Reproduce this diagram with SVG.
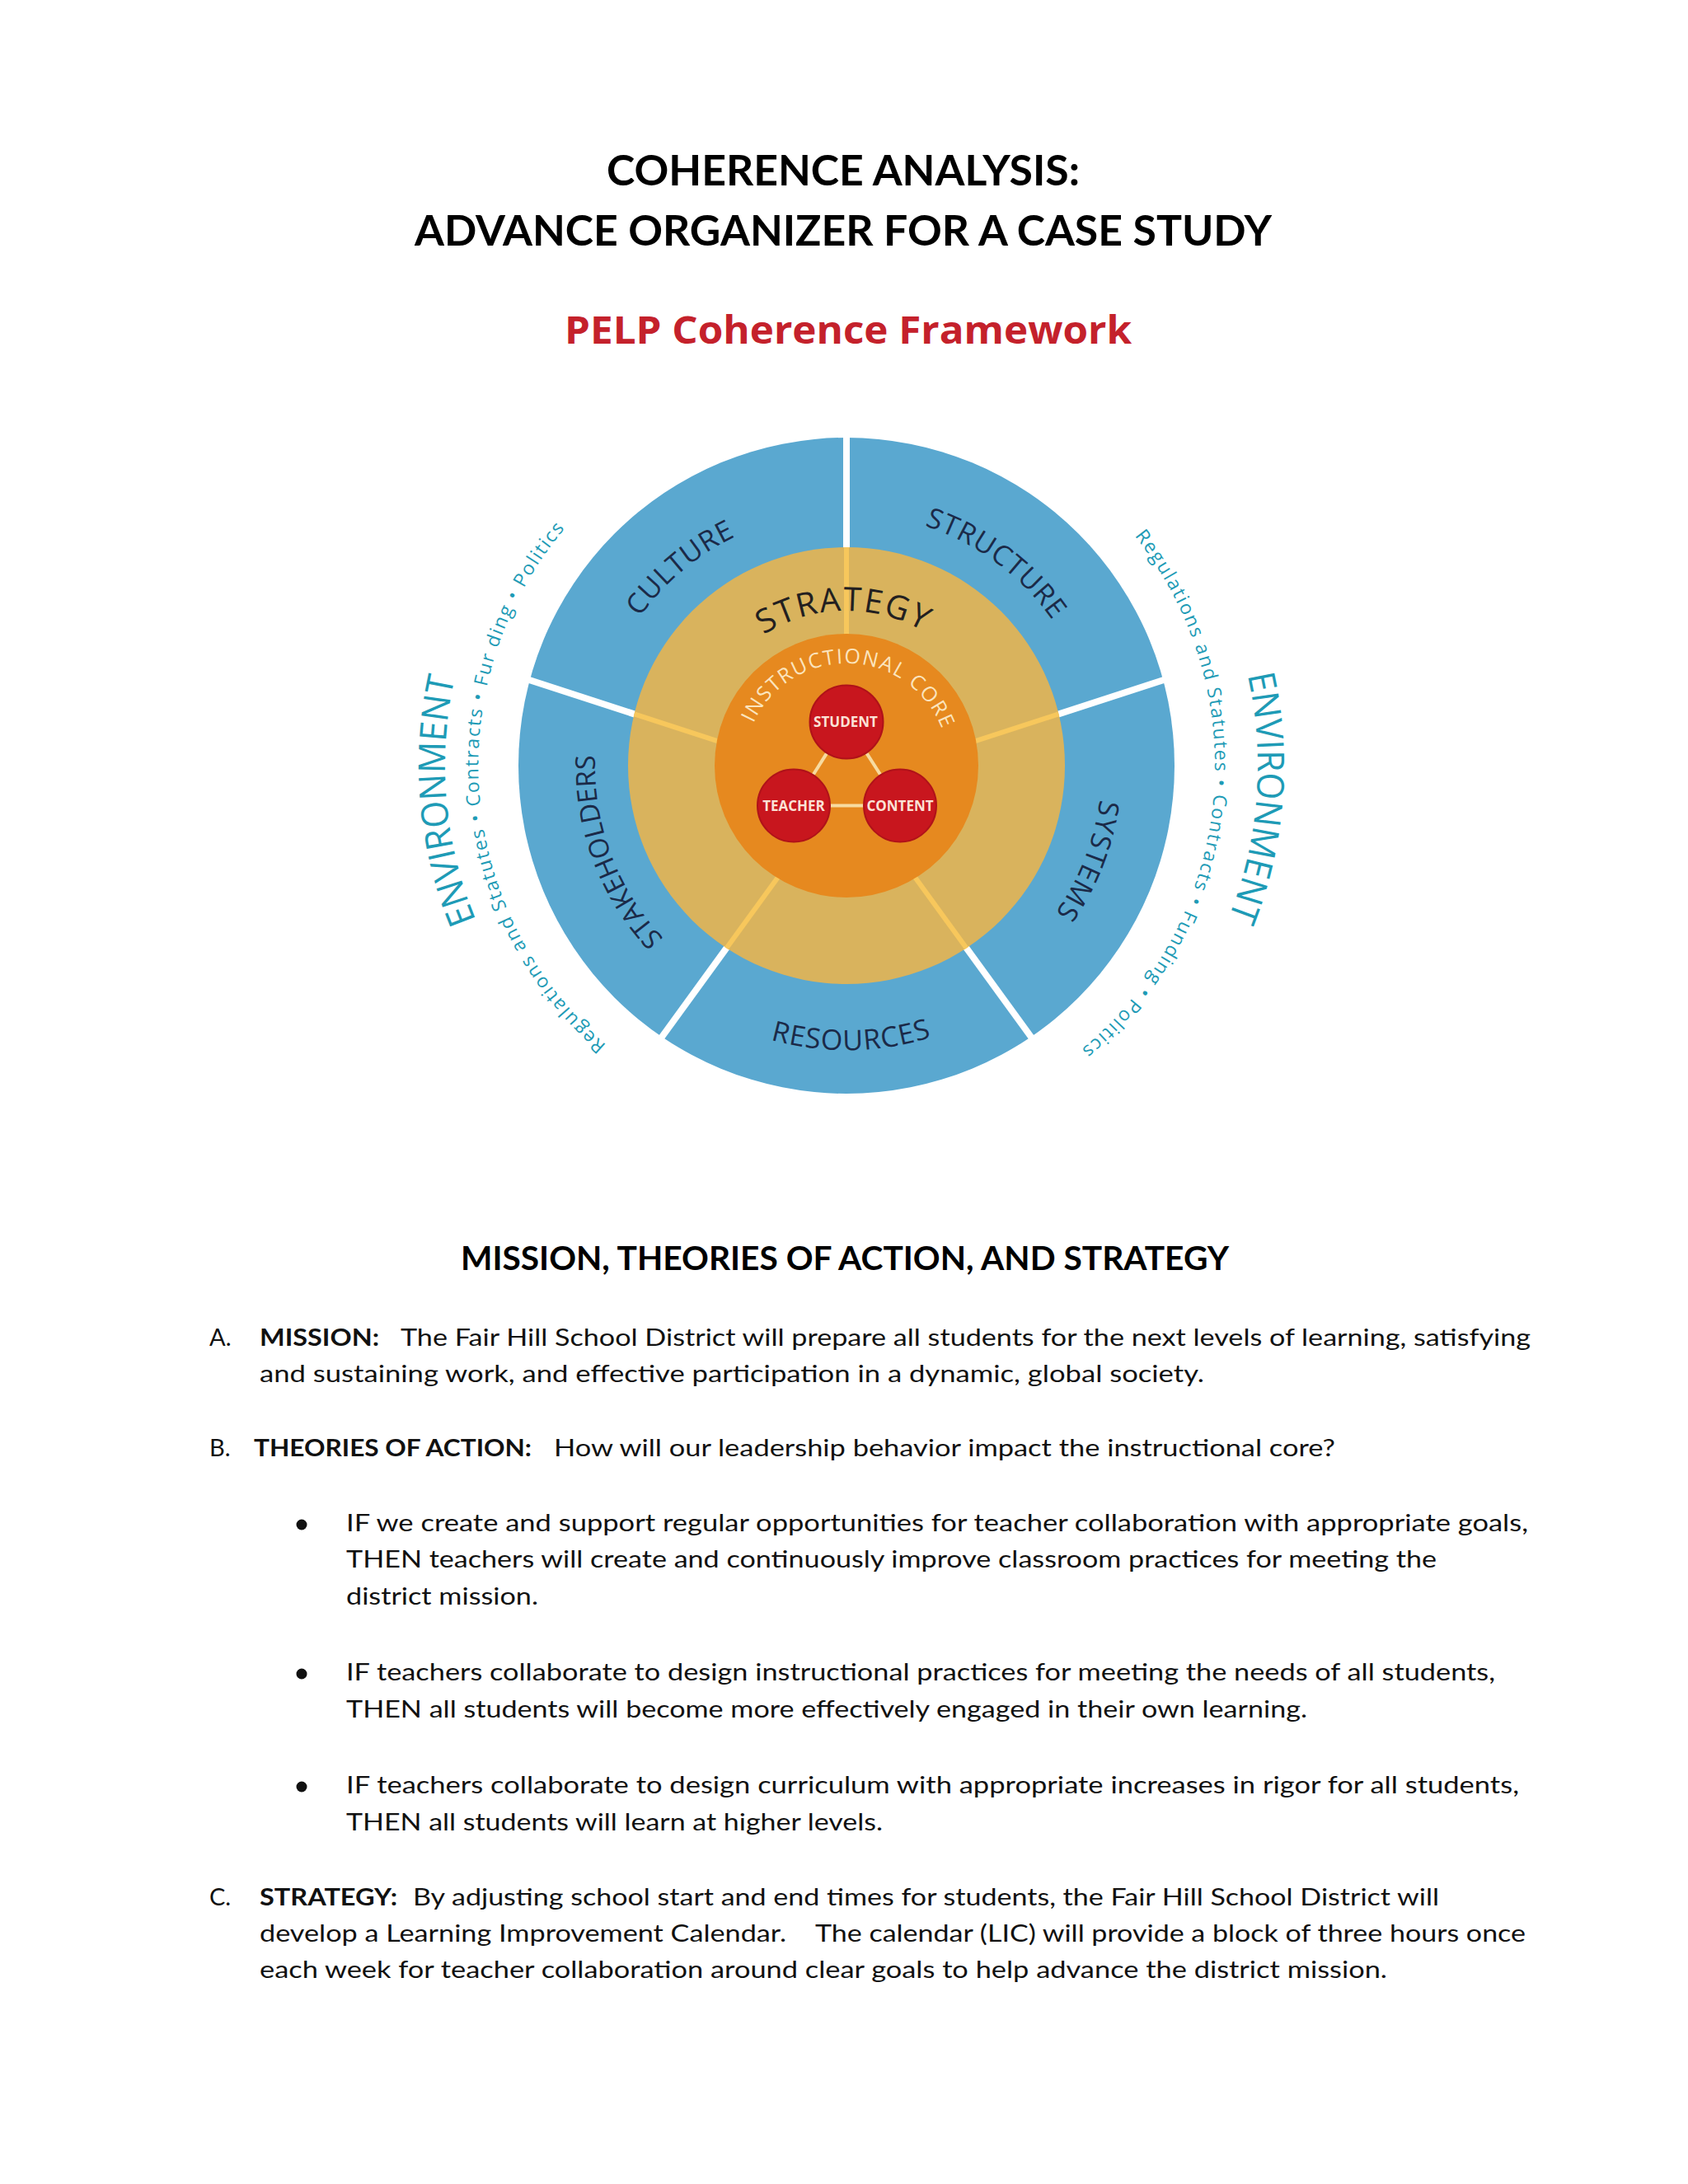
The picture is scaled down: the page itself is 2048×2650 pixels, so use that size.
<svg xmlns="http://www.w3.org/2000/svg" width="2048" height="2650" viewBox="0 0 2048 2650">
<style>
.ttl{font-family:Lato,"Liberation Sans",sans-serif;font-weight:700;fill:#000}
.red{font-family:"Open Sans","Liberation Sans",sans-serif;font-weight:700;fill:#c4212b}
.ring{font-family:"Open Sans","Liberation Sans",sans-serif;font-size:34px;fill:#1b2a48;letter-spacing:1px}
.strat{font-family:"Open Sans","Liberation Sans",sans-serif;font-size:40px;fill:#231f20;letter-spacing:2px}
.core{font-family:"Open Sans","Liberation Sans",sans-serif;font-size:25px;fill:#fbe4bd;letter-spacing:1.7px}
.env{font-family:"Open Sans","Liberation Sans",sans-serif;fill:#1e9bb6}
.envbig{font-size:45px}
.envsm{font-size:23px;letter-spacing:1.8px}
.node{fill:#c8161e;stroke:#b01219;stroke-width:2}
.nodetxt{font-family:"Open Sans","Liberation Sans",sans-serif;font-weight:700;font-size:17px;fill:#fbe2d6;text-anchor:middle}
.conn{stroke:#f7dba0;stroke-width:4;fill:none}
.wdiv{stroke:#ffffff;stroke-width:8}
.ydiv{stroke:#f7c75c;stroke-width:6}
.body{font-family:Lato,"Liberation Sans",sans-serif;font-size:29px;fill:#111}
.b{font-weight:700}
</style>
<defs>
<path id="p-culture" d="M759.4,1083.5 A309,309 0 0 1 1225.6,692.3"/>
<path id="p-structure" d="M816.3,707.0 A306,306 0 0 1 1300.8,1065.5"/>
<path id="p-systems" d="M1189.0,664.7 A310,310 0 0 1 965.2,1232.8"/>
<path id="p-stake" d="M1082.6,1228.9 A305,305 0 0 1 872.2,666.2"/>
<path id="p-resources" d="M688.3,994.8 A345,345 0 0 0 1367.8,983.0"/>
<path id="p-strategy" d="M841.3,899.6 A188,188 0 0 1 1211.5,893.1"/>
<path id="p-core" d="M905.7,903.2 A124,124 0 0 1 1149.8,911.7"/>
<path id="p-envL" d="M901.0,1399.4 A487,487 0 0 1 821.2,487.6"/>
<path id="p-envR" d="M1233.9,474.9 A499,499 0 0 1 1160.3,1409.8"/>
<path id="p-smL" d="M984.2,1373.9 A447,447 0 0 1 915.1,496.3"/>
<path id="p-smR" d="M1150.2,499.3 A447,447 0 0 1 1058.2,1374.9"/>
</defs>
<rect x="0" y="0" width="2048" height="2650" fill="#ffffff"/>

<g id="title">
<text class="ttl" x="1023" y="225" font-size="52" text-anchor="middle" textLength="574" lengthAdjust="spacingAndGlyphs">COHERENCE ANALYSIS:</text>
<text class="ttl" x="1023" y="298" font-size="52" text-anchor="middle" textLength="1040" lengthAdjust="spacingAndGlyphs">ADVANCE ORGANIZER FOR A CASE STUDY</text>
</g>

<g id="framework-title">
<text class="red" x="1029" y="417" font-size="46" text-anchor="middle" textLength="688" lengthAdjust="spacingAndGlyphs">PELP Coherence Framework</text>
</g>

<g id="diagram">
<g id="ring-outer"><circle cx="1027" cy="929" r="398" fill="#5aa8d0"/></g>
<g id="dividers-outer">
<line class="wdiv" x1="1027" y1="950" x2="1027" y2="526"/>
<line class="wdiv" x1="1027" y1="950" x2="1415" y2="824"/>
<line class="wdiv" x1="1027" y1="950" x2="639" y2="824"/>
<line class="wdiv" x1="1027" y1="950" x2="1253" y2="1261"/>
<line class="wdiv" x1="1027" y1="950" x2="801" y2="1261"/>
</g>
<g id="ring-strategy"><circle cx="1027" cy="929" r="265" fill="#d9b35d"/></g>
<g id="dividers-strategy">
<line class="ydiv" x1="1027" y1="950" x2="1027" y2="664"/>
<line class="ydiv" x1="1027" y1="950" x2="1284.4" y2="866.4"/>
<line class="ydiv" x1="1027" y1="950" x2="769.6" y2="866.4"/>
<line class="ydiv" x1="1027" y1="950" x2="1172.6" y2="1150.4"/>
<line class="ydiv" x1="1027" y1="950" x2="881.4" y2="1150.4"/>
</g>
<g id="instructional-core"><circle cx="1027" cy="929" r="160" fill="#e6891f"/></g>

<g id="seg-culture"><text class="ring" text-anchor="middle"><textPath href="#p-culture" startOffset="50%">CULTURE</textPath></text></g>
<g id="seg-structure"><text class="ring" text-anchor="middle"><textPath href="#p-structure" startOffset="50%">STRUCTURE</textPath></text></g>
<g id="seg-systems"><text class="ring" text-anchor="middle"><textPath href="#p-systems" startOffset="50%">SYSTEMS</textPath></text></g>
<g id="seg-resources"><text class="ring" text-anchor="middle"><textPath href="#p-resources" startOffset="50%">RESOURCES</textPath></text></g>
<g id="seg-stakeholders"><text class="ring" text-anchor="middle" style="font-size:33px;letter-spacing:0px"><textPath href="#p-stake" startOffset="50%">STAKEHOLDERS</textPath></text></g>
<g id="label-strategy"><text class="strat" text-anchor="middle"><textPath href="#p-strategy" startOffset="50%">STRATEGY</textPath></text></g>
<g id="label-core"><text class="core" text-anchor="middle"><textPath href="#p-core" startOffset="50%">INSTRUCTIONAL CORE</textPath></text></g>

<g id="environment-left">
<text class="env envbig" text-anchor="middle"><textPath href="#p-envL" startOffset="50%" textLength="300" lengthAdjust="spacingAndGlyphs">ENVIRONMENT</textPath></text>
<text class="env envsm" text-anchor="middle"><textPath href="#p-smL" startOffset="50%">Regulations and Statutes  •  Contracts  •  Fur ding  •  Politics</textPath></text>
</g>
<g id="environment-right">
<text class="env envbig" text-anchor="middle"><textPath href="#p-envR" startOffset="50%" textLength="300" lengthAdjust="spacingAndGlyphs">ENVIRONMENT</textPath></text>
<text class="env envsm" text-anchor="middle"><textPath href="#p-smR" startOffset="50%">Regulations and Statutes  •  Contracts  •  Funding  •  Politics</textPath></text>
</g>

<g id="connectors">
<line class="conn" x1="1003.3" y1="913.6" x2="986.5" y2="940.3"/>
<line class="conn" x1="1051.1" y1="913.4" x2="1068.2" y2="940.0"/>
<line class="conn" x1="1007" y1="977.5" x2="1048" y2="977.5"/>
</g>
<g id="node-student"><circle class="node" cx="1027" cy="876" r="44.5"/><text class="nodetxt" x="1026" y="882">STUDENT</text></g>
<g id="node-teacher"><circle class="node" cx="963" cy="977.5" r="44"/><text class="nodetxt" x="963" y="983.5">TEACHER</text></g>
<g id="node-content"><circle class="node" cx="1092" cy="977.5" r="44"/><text class="nodetxt" x="1092" y="983.5">CONTENT</text></g>
</g>

<g id="text-section">
<text class="ttl" x="1025" y="1541" font-size="40" text-anchor="middle" textLength="932" lengthAdjust="spacingAndGlyphs">MISSION, THEORIES OF ACTION, AND STRATEGY</text>

<text class="body" x="254" y="1633">A.</text>
<text class="body b" x="315" y="1633" textLength="145" lengthAdjust="spacingAndGlyphs">MISSION:</text>
<text class="body" x="486" y="1633" textLength="1371" lengthAdjust="spacingAndGlyphs">The Fair Hill School District will prepare all students for the next levels of learning, satisfying</text>
<text class="body" x="315" y="1677" textLength="1146" lengthAdjust="spacingAndGlyphs">and sustaining work,  and effective participation in a dynamic, global society.</text>

<text class="body" x="254" y="1767">B.</text>
<text class="body b" x="308" y="1767" textLength="337" lengthAdjust="spacingAndGlyphs">THEORIES OF ACTION:</text>
<text class="body" x="672" y="1767" textLength="948" lengthAdjust="spacingAndGlyphs">How will our leadership behavior impact the instructional core?</text>

<circle cx="366" cy="1850" r="6.5" fill="#111"/>
<text class="body" x="420" y="1858" textLength="1434" lengthAdjust="spacingAndGlyphs">IF we create and support regular opportunities for teacher collaboration with appropriate goals,</text>
<text class="body" x="420" y="1902" textLength="1323" lengthAdjust="spacingAndGlyphs">THEN teachers will create and continuously improve classroom practices for meeting the</text>
<text class="body" x="420" y="1947" textLength="233" lengthAdjust="spacingAndGlyphs">district mission.</text>

<circle cx="366" cy="2031" r="6.5" fill="#111"/>
<text class="body" x="420" y="2039" textLength="1394" lengthAdjust="spacingAndGlyphs">IF teachers collaborate to design instructional practices for meeting the needs of all students,</text>
<text class="body" x="420" y="2084" textLength="1166" lengthAdjust="spacingAndGlyphs">THEN all students will become more effectively engaged in their own learning.</text>

<circle cx="366" cy="2168" r="6.5" fill="#111"/>
<text class="body" x="420" y="2176" textLength="1423" lengthAdjust="spacingAndGlyphs">IF teachers collaborate to design curriculum with appropriate increases in rigor for all students,</text>
<text class="body" x="420" y="2221" textLength="651" lengthAdjust="spacingAndGlyphs">THEN all students will learn at higher levels.</text>

<text class="body" x="254" y="2312">C.</text>
<text class="body b" x="315" y="2312" textLength="167" lengthAdjust="spacingAndGlyphs">STRATEGY:</text>
<text class="body" x="501" y="2312" textLength="1245" lengthAdjust="spacingAndGlyphs">By adjusting school start and end times for students, the Fair Hill School District will</text>
<text class="body" x="315" y="2356" textLength="639" lengthAdjust="spacingAndGlyphs">develop a Learning Improvement Calendar.</text>
<text class="body" x="989" y="2356" textLength="862" lengthAdjust="spacingAndGlyphs">The calendar (LIC) will provide a block of three hours once</text>
<text class="body" x="315" y="2400" textLength="1368" lengthAdjust="spacingAndGlyphs">each week for teacher collaboration around clear goals to help advance the district mission.</text>
</g>
</svg>
